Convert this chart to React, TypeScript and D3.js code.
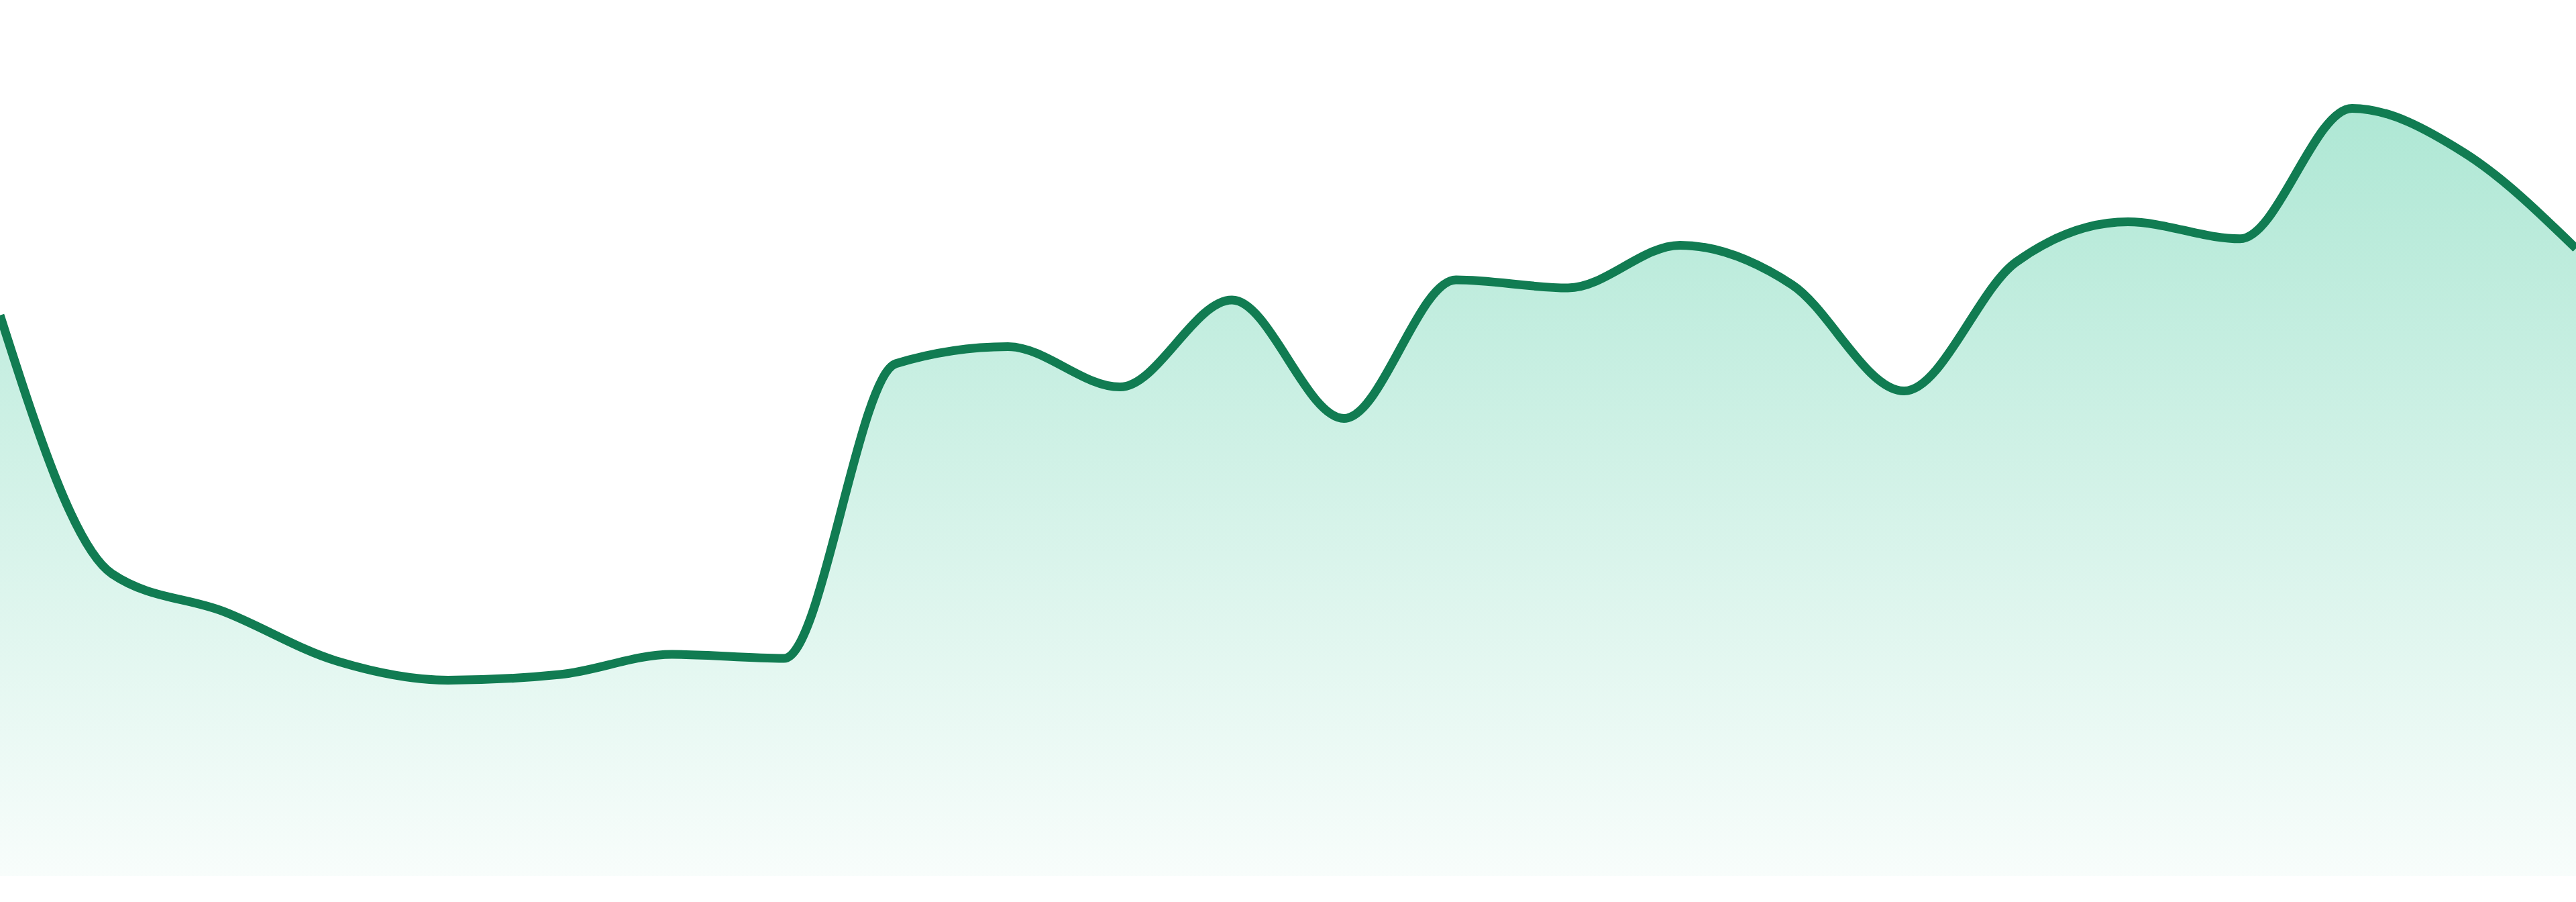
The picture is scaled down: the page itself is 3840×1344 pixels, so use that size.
import { useEffect, useRef } from 'react';
import * as d3 from 'd3';

// one value per evenly spaced step
const steps = d3.range(24);
const values = [
  69.6, 37.5, 32.8, 26.7, 24.3, 25.0, 27.5, 27.0,
  63.6, 65.7, 60.7, 71.5, 56.8, 74.0, 73.0, 78.3,
  73.4, 60.2, 76.2, 81.2, 79.1, 95.3, 89.8, 77.9,
];

const WIDTH = 3840;
const HEIGHT = 1344;
const BOTTOM = 1305;

export default function App() {
  const svgRef = useRef<SVGSVGElement>(null);

  useEffect(() => {
    if (!svgRef.current) return;
    const svg = d3.select(svgRef.current);
    svg.selectAll('*').remove();

    const x = d3.scaleLinear().domain([0, steps.length - 1]).range([0, WIDTH]);
    const y = d3.scaleLinear().domain([0, 100]).range([BOTTOM, 105]);

    const data = steps.map((s, i) => ({ s, v: values[i] }));

    const grad = svg.append('defs')
      .append('linearGradient')
      .attr('id', 'area-fill')
      .attr('gradientUnits', 'userSpaceOnUse')
      .attr('x1', 0).attr('x2', 0)
      .attr('y1', 0).attr('y2', BOTTOM);
    grad.append('stop').attr('offset', '0%').attr('stop-color', '#10b981').attr('stop-opacity', 0.38);
    grad.append('stop').attr('offset', '100%').attr('stop-color', '#10b981').attr('stop-opacity', 0.03);

    const area = d3.area<{ s: number; v: number }>()
      .x(d => x(d.s))
      .y0(BOTTOM)
      .y1(d => y(d.v))
      .curve(d3.curveMonotoneX);

    const line = d3.line<{ s: number; v: number }>()
      .x(d => x(d.s))
      .y(d => y(d.v))
      .curve(d3.curveMonotoneX);

    svg.append('path')
      .datum(data)
      .attr('d', area)
      .attr('fill', 'url(#area-fill)');

    svg.append('path')
      .datum(data)
      .attr('d', line)
      .attr('fill', 'none')
      .attr('stroke', '#117c52')
      .attr('stroke-width', 13)
      .attr('stroke-linejoin', 'round');
  }, []);

  return (
    <div style={{ position: 'absolute', left: 0, top: 0, width: WIDTH, height: HEIGHT, background: '#fff' }}>
      <svg ref={svgRef} width={WIDTH} height={HEIGHT} style={{ display: 'block' }} />
    </div>
  );
}
